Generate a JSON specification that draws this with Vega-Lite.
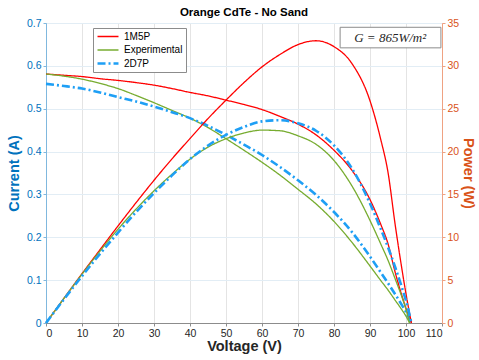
{
  "$schema": "https://vega.github.io/schema/vega-lite/v6.json",
  "autosize": {"type": "none"},
  "width": 396,
  "height": 300,
  "padding": {"left": 46, "top": 23, "right": 37, "bottom": 37},
  "background": "white",
  "title": {"text": "Orange CdTe - No Sand", "fontSize": 11.5, "fontWeight": "bold", "font": "Liberation Sans", "color": "#000000", "anchor": "middle", "offset": 0},
  "config": {
    "view": {"stroke": "#A0A0A0", "strokeWidth": 1},
    "axis": {"labelFont": "Liberation Sans", "labelFontSize": 10.5, "titleFont": "Liberation Sans", "titleFontSize": 14.5, "titleFontWeight": "bold", "tickSize": 3, "labelPadding": 2},
    "legend": {"labelFont": "Liberation Sans", "labelFontSize": 10, "labelColor": "#000000"}
  },
  "data": {"values": [
    {"s": "1M5P", "V": 0, "I": 0.581, "P": 0},
    {"s": "1M5P", "V": 5, "I": 0.578, "P": 2.89},
    {"s": "1M5P", "V": 10, "I": 0.575, "P": 5.75},
    {"s": "1M5P", "V": 15, "I": 0.570, "P": 8.55},
    {"s": "1M5P", "V": 20, "I": 0.566, "P": 11.32},
    {"s": "1M5P", "V": 25, "I": 0.561, "P": 14.03},
    {"s": "1M5P", "V": 30, "I": 0.555, "P": 16.65},
    {"s": "1M5P", "V": 35, "I": 0.547, "P": 19.15},
    {"s": "1M5P", "V": 40, "I": 0.538, "P": 21.52},
    {"s": "1M5P", "V": 45, "I": 0.530, "P": 23.85},
    {"s": "1M5P", "V": 50, "I": 0.520, "P": 26.0},
    {"s": "1M5P", "V": 55, "I": 0.510, "P": 28.05},
    {"s": "1M5P", "V": 60, "I": 0.498, "P": 29.88},
    {"s": "1M5P", "V": 65, "I": 0.482, "P": 31.33},
    {"s": "1M5P", "V": 70, "I": 0.464, "P": 32.48},
    {"s": "1M5P", "V": 75, "I": 0.439, "P": 32.93},
    {"s": "1M5P", "V": 80, "I": 0.403, "P": 32.24},
    {"s": "1M5P", "V": 85, "I": 0.356, "P": 30.26},
    {"s": "1M5P", "V": 90, "I": 0.288, "P": 25.92},
    {"s": "1M5P", "V": 93, "I": 0.230, "P": 21.39},
    {"s": "1M5P", "V": 95, "I": 0.185, "P": 17.58},
    {"s": "1M5P", "V": 97, "I": 0.118, "P": 11.45},
    {"s": "1M5P", "V": 99, "I": 0.060, "P": 5.94},
    {"s": "1M5P", "V": 100, "I": 0.034, "P": 3.4},
    {"s": "1M5P", "V": 101.5, "I": 0, "P": 0},
    {"s": "Experimental", "V": 0, "I": 0.581, "P": 0},
    {"s": "Experimental", "V": 5, "I": 0.576, "P": 2.88},
    {"s": "Experimental", "V": 10, "I": 0.569, "P": 5.69},
    {"s": "Experimental", "V": 15, "I": 0.559, "P": 8.39},
    {"s": "Experimental", "V": 20, "I": 0.547, "P": 10.94},
    {"s": "Experimental", "V": 25, "I": 0.531, "P": 13.28},
    {"s": "Experimental", "V": 30, "I": 0.514, "P": 15.42},
    {"s": "Experimental", "V": 35, "I": 0.496, "P": 17.36},
    {"s": "Experimental", "V": 40, "I": 0.478, "P": 19.12},
    {"s": "Experimental", "V": 45, "I": 0.456, "P": 20.52},
    {"s": "Experimental", "V": 50, "I": 0.430, "P": 21.5},
    {"s": "Experimental", "V": 55, "I": 0.403, "P": 22.17},
    {"s": "Experimental", "V": 60, "I": 0.375, "P": 22.5},
    {"s": "Experimental", "V": 65, "I": 0.345, "P": 22.43},
    {"s": "Experimental", "V": 70, "I": 0.312, "P": 21.84},
    {"s": "Experimental", "V": 75, "I": 0.278, "P": 20.85},
    {"s": "Experimental", "V": 80, "I": 0.237, "P": 18.96},
    {"s": "Experimental", "V": 85, "I": 0.188, "P": 15.98},
    {"s": "Experimental", "V": 90, "I": 0.133, "P": 11.97},
    {"s": "Experimental", "V": 93, "I": 0.099, "P": 9.21},
    {"s": "Experimental", "V": 95, "I": 0.077, "P": 7.32},
    {"s": "Experimental", "V": 97, "I": 0.053, "P": 5.14},
    {"s": "Experimental", "V": 99, "I": 0.029, "P": 2.87},
    {"s": "Experimental", "V": 100, "I": 0.016, "P": 1.6},
    {"s": "Experimental", "V": 101, "I": 0, "P": 0},
    {"s": "2D7P", "V": 0, "I": 0.558, "P": 0},
    {"s": "2D7P", "V": 5, "I": 0.553, "P": 2.77},
    {"s": "2D7P", "V": 10, "I": 0.547, "P": 5.47},
    {"s": "2D7P", "V": 15, "I": 0.538, "P": 8.07},
    {"s": "2D7P", "V": 20, "I": 0.527, "P": 10.54},
    {"s": "2D7P", "V": 25, "I": 0.517, "P": 12.93},
    {"s": "2D7P", "V": 30, "I": 0.505, "P": 15.15},
    {"s": "2D7P", "V": 35, "I": 0.492, "P": 17.22},
    {"s": "2D7P", "V": 40, "I": 0.478, "P": 19.12},
    {"s": "2D7P", "V": 45, "I": 0.460, "P": 20.7},
    {"s": "2D7P", "V": 50, "I": 0.439, "P": 21.95},
    {"s": "2D7P", "V": 55, "I": 0.416, "P": 22.88},
    {"s": "2D7P", "V": 60, "I": 0.392, "P": 23.52},
    {"s": "2D7P", "V": 65, "I": 0.364, "P": 23.66},
    {"s": "2D7P", "V": 70, "I": 0.333, "P": 23.31},
    {"s": "2D7P", "V": 75, "I": 0.299, "P": 22.43},
    {"s": "2D7P", "V": 80, "I": 0.259, "P": 20.72},
    {"s": "2D7P", "V": 85, "I": 0.212, "P": 18.02},
    {"s": "2D7P", "V": 90, "I": 0.155, "P": 13.95},
    {"s": "2D7P", "V": 93, "I": 0.118, "P": 10.97},
    {"s": "2D7P", "V": 95, "I": 0.093, "P": 8.84},
    {"s": "2D7P", "V": 97, "I": 0.067, "P": 6.5},
    {"s": "2D7P", "V": 99, "I": 0.040, "P": 3.96},
    {"s": "2D7P", "V": 100, "I": 0.026, "P": 2.6},
    {"s": "2D7P", "V": 101.5, "I": 0, "P": 0}
  ]},
  "encoding": {
    "x": {"field": "V", "type": "quantitative",
      "scale": {"domain": [0, 110], "nice": false},
      "axis": {"title": "Voltage (V)", "values": [0,10,20,30,40,50,60,70,80,90,100,110], "labelColor": "#262626", "titleColor": "#262626", "domainColor": "#8C8C8C", "tickColor": "#8C8C8C", "gridColor": "#E4E4E4", "titlePadding": 1}}
  },
  "layer": [
    {
      "mark": {"type": "line", "interpolate": "monotone"},
      "encoding": {
        "y": {"field": "I", "type": "quantitative",
          "scale": {"domain": [0, 0.7], "nice": false},
          "axis": {"title": "Current (A)", "orient": "left", "format": "~g", "values": [0,0.1,0.2,0.3,0.4,0.5,0.6,0.7], "labelColor": "#0072BD", "titleColor": "#0072BD", "domainColor": "#80B8DE", "tickColor": "#80B8DE", "gridColor": "#E2EDF5", "titlePadding": 5}},
        "color": {"field": "s", "type": "nominal", "scale": {"domain": ["1M5P", "Experimental", "2D7P"], "range": ["#FF0000", "#77AC30", "#1E9FF5"]},
          "legend": {"title": null, "orient": "none", "legendX": 47, "legendY": 5, "strokeColor": "#8C8C8C", "fillColor": "white", "padding": 3, "symbolType": "stroke", "symbolSize": 440, "clipHeight": 11, "rowPadding": 2.5, "labelOffset": 4}},
        "strokeDash": {"field": "s", "type": "nominal", "scale": {"domain": ["1M5P", "Experimental", "2D7P"], "range": [[1, 0], [1, 0], [8, 3, 2, 3]]}, "legend": {"title": null}},
        "strokeWidth": {"field": "s", "type": "nominal", "scale": {"type": "ordinal", "domain": ["1M5P", "Experimental", "2D7P"], "range": [1.3, 1.3, 2.6]}, "legend": {"title": null}}
      }
    },
    {
      "layer": [
        {
          "mark": {"type": "line", "interpolate": "monotone"},
          "encoding": {
            "y": {"field": "P", "type": "quantitative",
              "scale": {"domain": [0, 35], "nice": false},
              "axis": {"title": "Power (W)", "orient": "right", "values": [0,5,10,15,20,25,30,35], "grid": false, "labelColor": "#D95319", "titleColor": "#D95319", "domainColor": "#EFA282", "tickColor": "#EFA282", "titlePadding": 2}},
            "color": {"field": "s", "type": "nominal", "scale": {"domain": ["1M5P", "Experimental", "2D7P"], "range": ["#FF0000", "#77AC30", "#1E9FF5"]},
              "legend": {"title": null, "orient": "none", "legendX": 47, "legendY": 5, "strokeColor": "#8C8C8C", "fillColor": "white", "padding": 3, "symbolType": "stroke", "symbolSize": 440, "clipHeight": 11, "rowPadding": 2.5, "labelOffset": 4}},
            "strokeDash": {"field": "s", "type": "nominal", "scale": {"domain": ["1M5P", "Experimental", "2D7P"], "range": [[1, 0], [1, 0], [8, 3, 2, 3]]}, "legend": {"title": null}},
            "strokeWidth": {"field": "s", "type": "nominal", "scale": {"type": "ordinal", "domain": ["1M5P", "Experimental", "2D7P"], "range": [1.3, 1.3, 2.6]}, "legend": {"title": null}}
          }
        },
        {
          "transform": [{"filter": "datum.V == 0 && datum.s == '1M5P'"}],
          "mark": {"type": "rect", "fill": "white", "stroke": "#8C8C8C", "strokeWidth": 1},
          "encoding": {
            "x": {"datum": 81.7},
            "x2": {"datum": 109.7},
            "y": {"datum": 32.1},
            "y2": {"datum": 34.5}
          }
        },
        {
          "transform": [{"filter": "datum.V == 0 && datum.s == '1M5P'"}],
          "mark": {"type": "text", "font": "Liberation Serif", "fontStyle": "italic", "fontSize": 13, "color": "#262626", "align": "center", "baseline": "middle"},
          "encoding": {
            "x": {"datum": 95.6},
            "y": {"datum": 33.3},
            "text": {"value": "G = 865W/m²"}
          }
        }
      ]
    }
  ],
  "resolve": {"scale": {"y": "independent"}}
}
